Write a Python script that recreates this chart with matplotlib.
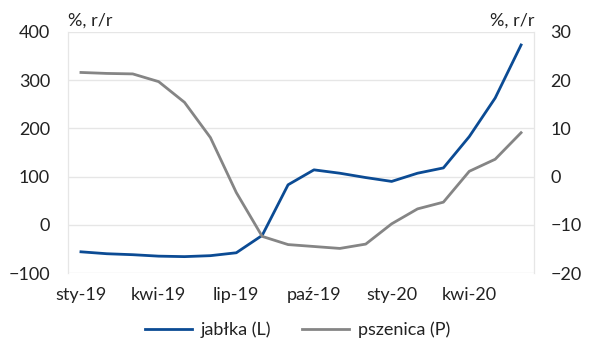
import matplotlib
matplotlib.use("Agg")
import matplotlib.pyplot as plt
from matplotlib.lines import Line2D

plt.rcParams['font.family'] = ['Lato', 'DejaVu Sans']

months = ["sty-19", "lut-19", "mar-19", "kwi-19", "maj-19", "cze-19",
          "lip-19", "sie-19", "wrz-19", "paź-19", "lis-19", "gru-19",
          "sty-20", "lut-20", "mar-20", "kwi-20", "maj-20", "cze-20"]
jablka = [-56, -60, -62, -65, -66, -64, -58, -22, 83, 114, 107, 98,
          90, 107, 118, 183, 263, 373]
pszenica = [21.6, 21.4, 21.3, 19.7, 15.4, 8.1, -3.3, -12.4, -14.1, -14.5,
            -14.9, -14.0, -9.8, -6.7, -5.3, 1.1, 3.6, 9.1]
left_ticks = [-100, 0, 100, 200, 300, 400]
right_ticks = [-20, -10, 0, 10, 20, 30]

BLUE = "#0B4B94"
GREY = "#858585"
GRID = "#E6E6E6"
TEXT = "#222222"
FS = 13

fig = plt.figure(figsize=(5.95, 3.40), dpi=100)
ax = fig.add_axes([0.1143, 0.197, 0.7832, 0.709])
ax2 = ax.twinx()

x = list(range(len(months)))
ax.plot(x, jablka, color=BLUE, lw=2.0, zorder=3)
ax2.plot(x, pszenica, color=GREY, lw=2.0, zorder=3)

ax.set_xlim(-0.5, len(months) - 0.5)
ax.set_ylim(-100, 400)
ax2.set_ylim(-20, 30)
ax.set_yticks(left_ticks)
ax2.set_yticks(right_ticks)
ax.set_xticks(x[::3])
ax.set_xticklabels(months[::3])

ax.grid(axis='y', color=GRID, lw=1.0)
ax.set_axisbelow(True)

for a in (ax, ax2):
    for side in ('top', 'bottom'):
        a.spines[side].set_visible(False)
    a.spines['left'].set_color(GRID)
    a.spines['right'].set_color(GRID)
    a.tick_params(length=0, labelsize=FS, colors=TEXT)
ax.tick_params(axis='y', pad=13)
ax2.tick_params(axis='y', pad=12)
ax.tick_params(axis='x', pad=10)

fig.text(0.1143, 0.94, "%, r/r", fontsize=FS, color=TEXT, ha='left', va='center')
fig.text(0.8975, 0.94, "%, r/r", fontsize=FS, color=TEXT, ha='right', va='center')

handles = [Line2D([], [], color=BLUE, lw=2.0), Line2D([], [], color=GREY, lw=2.0)]
fig.legend(handles, ["jabłka (L)", "pszenica (P)"], loc='center',
           bbox_to_anchor=(0.5, 0.03), ncol=2, frameon=False,
           fontsize=FS, handlelength=2.6, handletextpad=0.5,
           columnspacing=1.7, labelcolor=TEXT)

fig.savefig("out.png", dpi=100)
